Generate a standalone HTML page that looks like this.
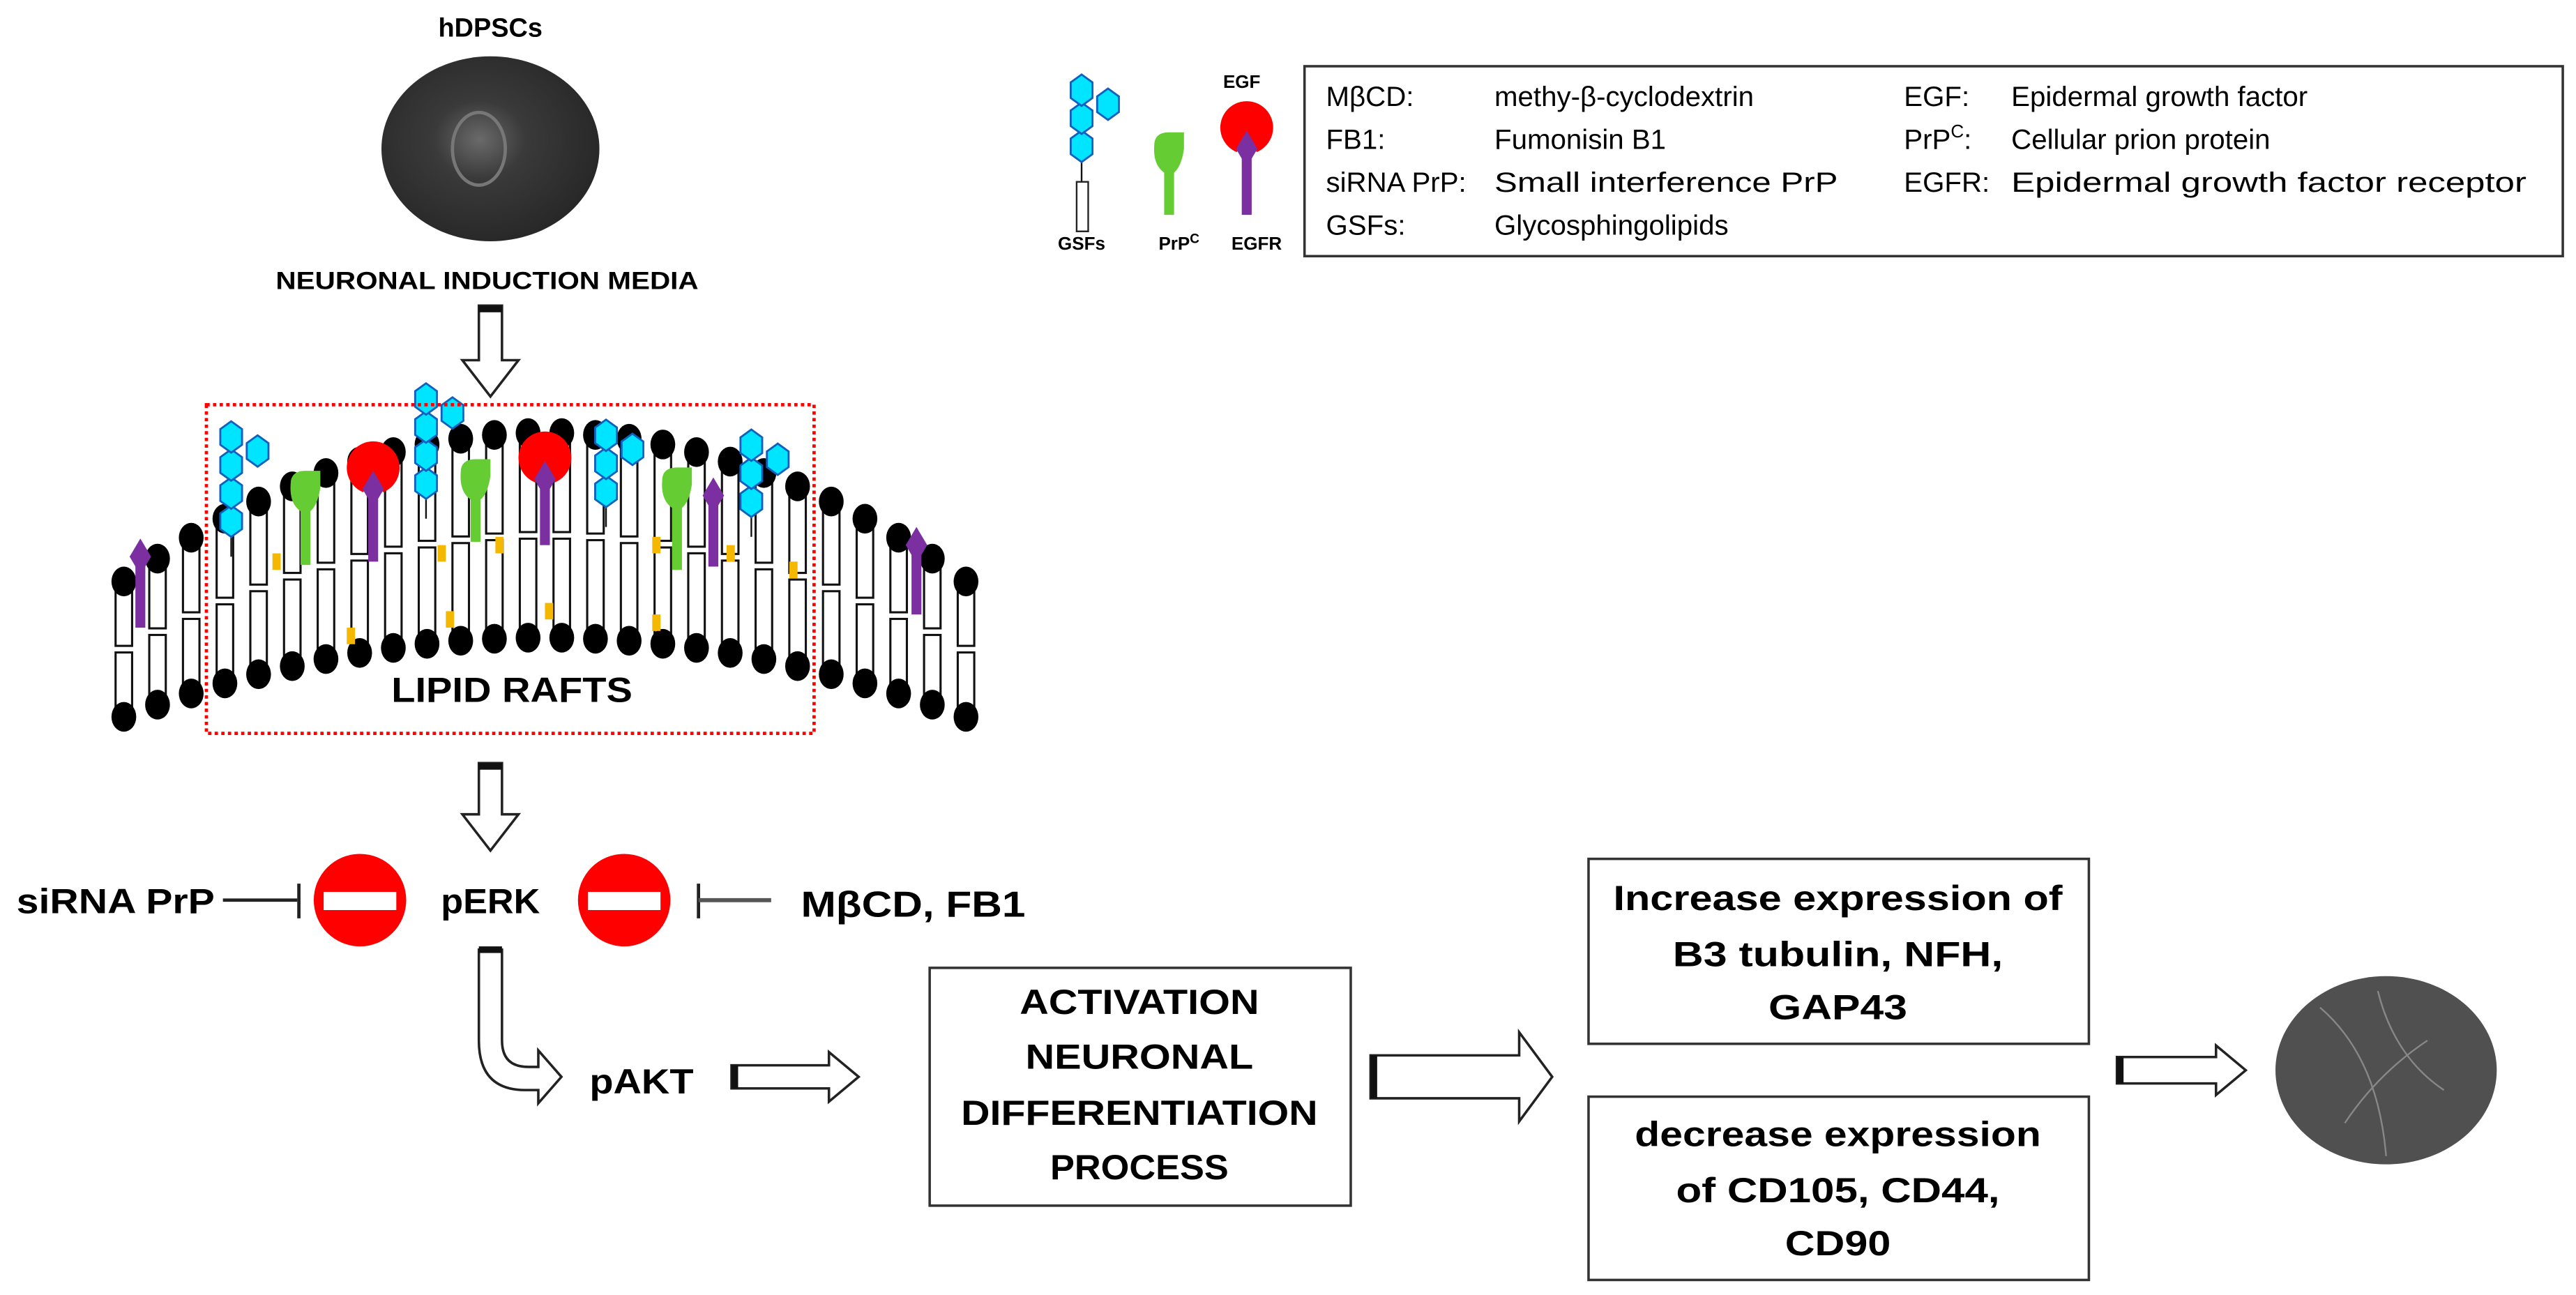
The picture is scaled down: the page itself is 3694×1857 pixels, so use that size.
<!DOCTYPE html>
<html><head><meta charset="utf-8"><style>
html,body{margin:0;padding:0;background:#fff;width:3694px;height:1857px;overflow:hidden}
svg{display:block}
text{font-family:"Liberation Sans",sans-serif}
.b{font-weight:bold}
</style></head><body>
<svg id="s" width="3694" height="1857" viewBox="0 0 1560 784" xmlns="http://www.w3.org/2000/svg">
<defs>
<radialGradient id="g1" cx="0.45" cy="0.45" r="0.6"><stop offset="0" stop-color="#6a6a6a"/><stop offset="0.35" stop-color="#3a3a3a"/><stop offset="1" stop-color="#262626"/></radialGradient>
</defs>
<rect width="1560" height="784" fill="#fff"/>
<text x="297" y="22" class="b" font-size="16" text-anchor="middle">hDPSCs</text>
<ellipse cx="297" cy="90" rx="66" ry="56" fill="url(#g1)"/>
<ellipse cx="290" cy="90" rx="16" ry="22" fill="none" stroke="#777" stroke-width="2"/>
<text x="295" y="175" class="b" font-size="15" text-anchor="middle" textLength="256" lengthAdjust="spacingAndGlyphs">NEURONAL INDUCTION MEDIA</text>

<g id="mem"></g>
<rect x="125" y="245" width="368" height="199" fill="none" stroke="#f00" stroke-width="2" stroke-dasharray="2,2"/>
<text x="310" y="425" class="b" font-size="21" text-anchor="middle" textLength="146" lengthAdjust="spacingAndGlyphs">LIPID RAFTS</text>

<g id="arrows" fill="#fff" stroke="#222" stroke-width="1.5"></g>

<text x="10" y="553" class="b" font-size="21" textLength="120" lengthAdjust="spacingAndGlyphs">siRNA PrP</text>
<line x1="135" y1="545" x2="180" y2="545" stroke="#222" stroke-width="2"/>
<line x1="181" y1="535" x2="181" y2="556" stroke="#222" stroke-width="2"/>
<circle cx="218" cy="545" r="28" fill="#f00"/><rect x="196" y="540" width="44" height="11" fill="#fff"/>
<text x="297" y="553" class="b" font-size="21" text-anchor="middle" textLength="60" lengthAdjust="spacingAndGlyphs">pERK</text>
<circle cx="378" cy="545" r="28" fill="#f00"/><rect x="356" y="540" width="44" height="11" fill="#fff"/>
<line x1="423" y1="535" x2="423" y2="556" stroke="#222" stroke-width="2"/>
<line x1="423" y1="545" x2="467" y2="545" stroke="#555" stroke-width="2.5"/>
<text x="485" y="555" class="b" font-size="22" textLength="136" lengthAdjust="spacingAndGlyphs">MβCD, FB1</text>
<text x="357" y="662" class="b" font-size="21" textLength="63" lengthAdjust="spacingAndGlyphs">pAKT</text>

<rect x="563" y="586" width="255" height="144" fill="#fff" stroke="#333" stroke-width="1.5"/>
<g class="b" font-size="21" text-anchor="middle">
<text x="690" y="614" textLength="145" lengthAdjust="spacingAndGlyphs">ACTIVATION</text>
<text x="690" y="647" textLength="138" lengthAdjust="spacingAndGlyphs">NEURONAL</text>
<text x="690" y="681" textLength="216" lengthAdjust="spacingAndGlyphs">DIFFERENTIATION</text>
<text x="690" y="714" textLength="108" lengthAdjust="spacingAndGlyphs">PROCESS</text>
</g>
<rect x="962" y="520" width="303" height="112" fill="#fff" stroke="#333" stroke-width="1.5"/>
<g class="b" font-size="21" text-anchor="middle">
<text x="1113" y="551" textLength="272" lengthAdjust="spacingAndGlyphs">Increase expression of</text>
<text x="1113" y="585" textLength="200" lengthAdjust="spacingAndGlyphs">B3 tubulin, NFH,</text>
<text x="1113" y="617" textLength="84" lengthAdjust="spacingAndGlyphs">GAP43</text>
</g>
<rect x="962" y="664" width="303" height="111" fill="#fff" stroke="#333" stroke-width="1.5"/>
<g class="b" font-size="21" text-anchor="middle">
<text x="1113" y="694" textLength="246" lengthAdjust="spacingAndGlyphs">decrease expression</text>
<text x="1113" y="728" textLength="196" lengthAdjust="spacingAndGlyphs">of CD105, CD44,</text>
<text x="1113" y="760" textLength="64" lengthAdjust="spacingAndGlyphs">CD90</text>
</g>
<ellipse cx="1445" cy="648" rx="67" ry="57" fill="#505050"/>
<path d="M1405 610 Q1440 640 1445 700 M1440 600 Q1450 640 1480 660 M1420 680 Q1440 650 1470 630" stroke="#888" stroke-width="1" fill="none"/>

<g id="leg"></g>
<text x="655" y="151" class="b" font-size="11" text-anchor="middle">GSFs</text>
<text x="714" y="151" class="b" font-size="11" text-anchor="middle">PrP<tspan font-size="8" dy="-4">C</tspan></text>
<text x="761" y="151" class="b" font-size="11" text-anchor="middle">EGFR</text>
<text x="752" y="53" class="b" font-size="11" text-anchor="middle">EGF</text>
<rect x="790" y="40" width="762" height="115" fill="#fff" stroke="#333" stroke-width="1.5"/>
<g font-size="17">
<text x="803" y="64">MβCD:</text><text x="905" y="64">methy-β-cyclodextrin</text>
<text x="803" y="90">FB1:</text><text x="905" y="90">Fumonisin B1</text>
<text x="803" y="116">siRNA PrP:</text><text x="905" y="116" textLength="208" lengthAdjust="spacingAndGlyphs">Small interference PrP</text>
<text x="803" y="142">GSFs:</text><text x="905" y="142">Glycosphingolipids</text>
<text x="1153" y="64">EGF:</text><text x="1218" y="64">Epidermal growth factor</text>
<text x="1153" y="90">PrP<tspan font-size="11" dy="-7">C</tspan><tspan dy="7">:</tspan></text><text x="1218" y="90">Cellular prion protein</text>
<text x="1153" y="116">EGFR:</text><text x="1218" y="116" textLength="312" lengthAdjust="spacingAndGlyphs">Epidermal growth factor receptor</text>
</g>
</svg>
<script>
var NS="http://www.w3.org/2000/svg";
function el(p,t,a){var e=document.createElementNS(NS,t);for(var k in a)e.setAttribute(k,a[k]);p.appendChild(e);return e;}
var mem=document.getElementById('mem');
function topY(x){var u=(x-330)/255;return 262+90*u*u;}
function botY(x){var u=(x-330)/255;return 386+48*u*u;}
for(var x=75;x<=586;x+=20.4){
  var t=topY(x),b=botY(x),m=(t+b)/2;
  el(mem,'rect',{x:x-5,y:t,width:10,height:m-t-2,fill:'#fff',stroke:'#111','stroke-width':1.3});
  el(mem,'rect',{x:x-5,y:m+2,width:10,height:b-m-2,fill:'#fff',stroke:'#111','stroke-width':1.3});
  el(mem,'ellipse',{cx:x,cy:t,rx:7.5,ry:9,fill:'#000'});
  el(mem,'ellipse',{cx:x,cy:b,rx:7.5,ry:9,fill:'#000'});
}
[[165,335],[265,330],[300,325],[395,325],[440,330],[478,340],[210,380],[270,370],[330,365],[395,372]].forEach(function(p){
  el(mem,'rect',{x:p[0],y:p[1],width:5,height:10,fill:'#f5b800'});
});
function hex(p,cx,cy){var r=9.5,pts=[];for(var i=0;i<6;i++){var a=Math.PI/3*i+Math.PI/2;pts.push((cx+r*0.8*Math.cos(a))+','+(cy+r*Math.sin(a)));}
 el(p,'polygon',{points:pts.join(' '),fill:'#00e5ff',stroke:'#1060c0','stroke-width':1.2});}
function gsf(p,x,yb,n){el(p,'line',{x1:x,y1:yb,x2:x,y2:yb+12,stroke:'#111','stroke-width':1});
 for(var i=0;i<n;i++)hex(p,x,yb-9.5-i*17);hex(p,x+16,yb-9.5-(n-1.5)*17);}
function prp(p,x,yt,yb){el(p,'rect',{x:x-3,y:yt+18,width:6,height:yb-yt-18,fill:'#66cc33'});
 el(p,'path',{d:'M'+(x-9)+' '+(yt+8)+' Q'+(x-9)+' '+yt+' '+x+' '+yt+' L'+(x+9)+' '+yt+' L'+(x+9)+' '+(yt+10)+' Q'+(x+7)+' '+(yt+24)+' '+x+' '+(yt+26)+' Q'+(x-10)+' '+(yt+22)+' '+(x-9)+' '+(yt+8)+'Z',fill:'#66cc33'});}
function egfr(p,x,yd,yb,egf){if(egf){el(p,'path',{d:'M'+(x-6)+' '+(yd+2)+' A16 16 0 1 1 '+(x+6)+' '+(yd+2)+' L'+x+' '+(yd-10)+'Z',fill:'#f00'});}
 el(p,'rect',{x:x-3,y:yd,width:6,height:yb-yd,fill:'#7b2fa0'});
 el(p,'polygon',{points:x+','+(yd-11)+' '+(x+6.5)+','+yd+' '+x+','+(yd+11)+' '+(x-6.5)+','+yd,fill:'#7b2fa0'});}
gsf(mem,140,325,4);gsf(mem,258,302,4);gsf(mem,367,307,3);gsf(mem,455,313,3);
prp(mem,185,285,342);prp(mem,288,278,328);prp(mem,410,283,345);
egfr(mem,226,296,340,true);egfr(mem,330,290,330,true);
egfr(mem,85,337,380,false);egfr(mem,432,300,343,false);egfr(mem,555,330,372,false);
var leg=document.getElementById('leg');
gsf(leg,655,98,3);
el(leg,'rect',{x:652,y:110,width:7,height:30,fill:'#fff',stroke:'#222','stroke-width':1});
prp(leg,708,80,130);
egfr(leg,755,90,130,true);
var ar=document.getElementById('arrows');
function hollow(x1,y1,x2,y2,sw,hw,hl){
 var dx=x2-x1,dy=y2-y1,L=Math.hypot(dx,dy),ux=dx/L,uy=dy/L,px=-uy,py=ux;
 var bx=x2-ux*hl,by=y2-uy*hl;
 var P=[[x1+px*sw,y1+py*sw],[bx+px*sw,by+py*sw],[bx+px*hw,by+py*hw],[x2,y2],[bx-px*hw,by-py*hw],[bx-px*sw,by-py*sw],[x1-px*sw,y1-py*sw]];
 el(ar,'polygon',{points:P.map(function(q){return q.join(',')}).join(' ')});
 el(ar,'rect',{x:Math.min(x1+px*sw,x1-px*sw),y:Math.min(y1+py*sw,y1-py*sw),width:Math.abs(dx?4:2*sw),height:Math.abs(dy?4:2*sw),fill:'#111',stroke:'none'});
}
hollow(297,185,297,240,7,17,22);
hollow(297,462,297,515,7,17,22);
hollow(443,652,520,652,7,15,18);
hollow(830,652,940,652,13,27,20);
hollow(1282,648,1360,648,8,15,18);
el(ar,'path',{d:'M290 575 L304 575 L304 630 Q304 646 320 646 L326 646 L326 636 L340 652 L326 668 L326 660 L318 660 Q290 660 290 630 Z'});
el(ar,'rect',{x:290,y:573,width:14,height:4,fill:'#111',stroke:'none'});
</script>
</body></html>
